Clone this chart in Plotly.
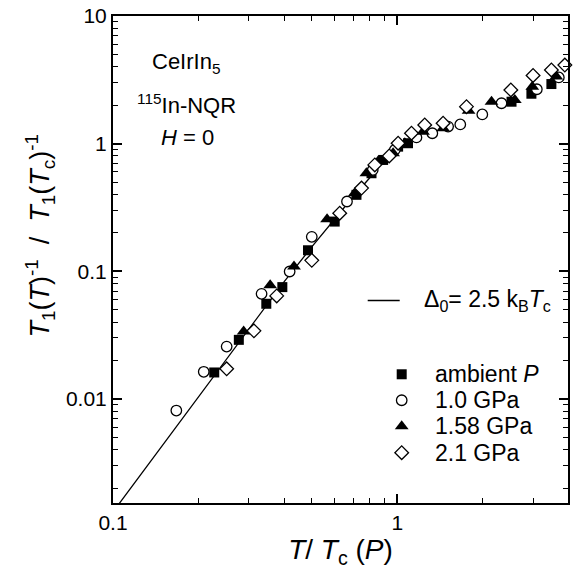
import plotly.graph_objects as go

# ---------------- data ----------------
# T / Tc(P) and T1(T)^-1 / T1(Tc)^-1
T_amb = [0.227, 0.277, 0.346, 0.394, 0.485, 0.602, 0.718, 0.811, 0.891, 1.006, 1.09, 2.52, 2.96, 3.48]
R_amb = [0.0161, 0.0290, 0.0556, 0.0751, 0.146, 0.245, 0.397, 0.586, 0.745, 0.947, 1.007, 2.13, 2.46, 2.93]

T_10 = [0.167, 0.2085, 0.251, 0.333, 0.418, 0.50, 0.665, 0.819, 0.979, 1.167, 1.327, 1.508, 1.664, 1.989, 2.324, 3.093, 3.696]
R_10 = [0.0081, 0.0163, 0.0257, 0.0665, 0.0995, 0.186, 0.352, 0.622, 0.893, 1.118, 1.206, 1.359, 1.414, 1.693, 2.072, 2.667, 3.30]

T_158 = [0.288, 0.357, 0.433, 0.566, 0.708, 0.778, 0.855, 0.966, 1.062, 1.231, 1.448, 1.78, 2.143, 2.588, 2.982, 3.62]
R_158 = [0.0337, 0.0778, 0.109, 0.256, 0.409, 0.586, 0.723, 0.841, 1.007, 1.24, 1.32, 1.81, 2.133, 2.198, 2.795, 3.35]

T_21 = [0.251, 0.313, 0.3765, 0.50, 0.627, 0.748, 0.833, 0.936, 1.006, 1.121, 1.248, 1.448, 1.75, 2.506, 3.0, 3.48, 3.88]
R_21 = [0.0172, 0.0341, 0.0641, 0.1217, 0.285, 0.448, 0.681, 0.801, 1.007, 1.206, 1.401, 1.445, 1.949, 2.633, 3.42, 3.78, 4.13]

# fitted curve (Delta0 = 2.5 kB Tc)
T_fit = [0.1, 0.15, 0.2, 0.3, 0.4, 0.5, 0.6, 0.7, 0.8, 0.9, 1.0]
R_fit = [0.0013, 0.0044, 0.0104, 0.035, 0.083, 0.155, 0.255, 0.385, 0.54, 0.74, 1.0]

series_names = ["ambient <i>P</i>", "1.0 GPa", "1.58 GPa", "2.1 GPa"]
fit_label = "Δ<sub>0</sub>= 2.5 k<sub>B</sub><i>T</i><sub>c</sub>"
x_title = "<i>T</i>/ <i>T</i><sub>c</sub> (<i>P</i>)"
y_title = "<i>T</i><sub>1</sub>(<i>T</i>)<sup>-1</sup>  /  <i>T</i><sub>1</sub>(<i>T</i><sub>c</sub>)<sup>-1</sup>"

x_tickvals = [0.1, 1]
x_ticktext = ["0.1", "1"]
y_tickvals = [0.01, 0.1, 1, 10]
y_ticktext = ["0.01", "0.1", "1", "10"]

# ---------------- styling ----------------
FONT = "Liberation Sans, Arial, Helvetica, sans-serif"
W, H = 577, 576
L, R, T, B = 113.3, 568.3, 16, 503.3   # plot-area pixel box

def px_to_paper(px, py):
    return (px - L) / (R - L), (B - py) / (B - T)

styles = [
    dict(symbol="square", color="black", size=10, lw=0),
    dict(symbol="circle", color="white", size=10.5, lw=1.3),
    dict(symbol="triangle-up", color="black", size=12, lw=0),
    dict(symbol="diamond", color="white", size=10.5, lw=1.3),
]

fig = go.Figure()
fig.add_trace(go.Scatter(x=T_fit, y=R_fit, mode="lines",
                         line=dict(color="black", width=1.3),
                         showlegend=False, hoverinfo="skip"))

data = [(T_amb, R_amb), (T_10, R_10), (T_158, R_158), (T_21, R_21)]
for i in range(4):
    xs, ys = data[i]
    st = styles[i]
    fig.add_trace(go.Scatter(
        x=xs, y=ys, mode="markers", name=series_names[i], showlegend=False,
        cliponaxis=False,
        marker=dict(symbol=st["symbol"], size=st["size"], color=st["color"],
                    line=dict(color="black", width=st["lw"]))))

# ---- manual legend on a pixel overlay axis ----
LEG_X = 402
LEG_TX = 433
LEG_Y = [374.5, 400.5, 426.5, 453]
for i in range(4):
    st = styles[i]
    fig.add_trace(go.Scatter(
        x=[LEG_X], y=[LEG_Y[i]], xaxis="x2", yaxis="y2", mode="markers",
        showlegend=False, hoverinfo="skip", cliponaxis=False,
        marker=dict(symbol=st["symbol"], size=st["size"], color=st["color"],
                    line=dict(color="black", width=st["lw"]))))

annotations = []
for i in range(4):
    annotations.append(dict(x=LEG_TX, y=LEG_Y[i], xref="x2", yref="y2",
                            text=series_names[i], showarrow=False,
                            xanchor="left", yanchor="middle",
                            font=dict(family=FONT, size=23, color="black")))

annotations.append(dict(x=422.7, y=300.7, xref="x2", yref="y2", text=fit_label,
                        showarrow=False, xanchor="left", yanchor="middle",
                        font=dict(family=FONT, size=23, color="black")))

annotations += [
    dict(x=186, y=63, xref="x2", yref="y2", text="CeIrIn<sub>5</sub>", showarrow=False,
         xanchor="center", yanchor="middle", font=dict(family=FONT, size=22, color="black")),
    dict(x=187, y=104, xref="x2", yref="y2", text="<sup>115</sup>In-NQR", showarrow=False,
         xanchor="center", yanchor="middle", font=dict(family=FONT, size=22, color="black")),
    dict(x=188, y=138, xref="x2", yref="y2", text="<i>H</i> = 0", showarrow=False,
         xanchor="center", yanchor="middle", font=dict(family=FONT, size=22, color="black")),
]

# y-axis title placed in paper coordinates (left of the tick labels)
ytx, yty = px_to_paper(40, 236)
annotations.append(dict(x=ytx, y=yty, xref="paper", yref="paper", text=y_title,
                        showarrow=False, textangle=-90, xanchor="center", yanchor="middle",
                        font=dict(family=FONT, size=27, color="black")))

shapes = [dict(type="line", xref="x2", yref="y2", x0=368, x1=400, y0=300.7, y1=300.7,
               line=dict(color="black", width=1.6))]

axis_common = dict(type="log", showgrid=False, zeroline=False, showline=True,
                   linewidth=2, linecolor="black", mirror="ticks", automargin=False,
                   ticks="inside", ticklen=9, tickwidth=1.5, tickcolor="black",
                   tickfont=dict(family=FONT, size=21, color="black"))

fig.update_layout(
    width=W, height=H,
    margin=dict(l=L, r=W - R, t=T, b=H - B, pad=0, autoexpand=False),
    plot_bgcolor="white", paper_bgcolor="white",
    showlegend=False,
    font=dict(family=FONT, color="black"),
    xaxis=dict(**axis_common, range=[-1, 0.6],
               tickvals=x_tickvals, ticktext=x_ticktext,
               minor=dict(tickvals=[0.2, 0.3, 0.4, 0.5, 0.6, 0.7, 0.8, 0.9, 2, 3],
                          ticks="inside", ticklen=5, tickwidth=1.3, tickcolor="black"),
               title=dict(text=x_title,
                          font=dict(family=FONT, size=28, color="black"), standoff=2)),
    yaxis=dict(**axis_common, range=[-2.816, 1],
               tickvals=y_tickvals, ticktext=y_ticktext,
               minor=dict(tickvals=[m * d for d in (0.001, 0.01, 0.1, 1) for m in range(2, 10)],
                          ticks="inside", ticklen=5, tickwidth=1.3, tickcolor="black")),
    xaxis2=dict(overlaying="x", range=[L, R], visible=False, fixedrange=True),
    yaxis2=dict(overlaying="y", range=[B, T], visible=False, fixedrange=True),
    annotations=annotations,
    shapes=shapes,
)

fig.write_html("out.html", config={"displayModeBar": False},
               post_script="document.body.style.margin='0';document.body.style.padding='0';")
